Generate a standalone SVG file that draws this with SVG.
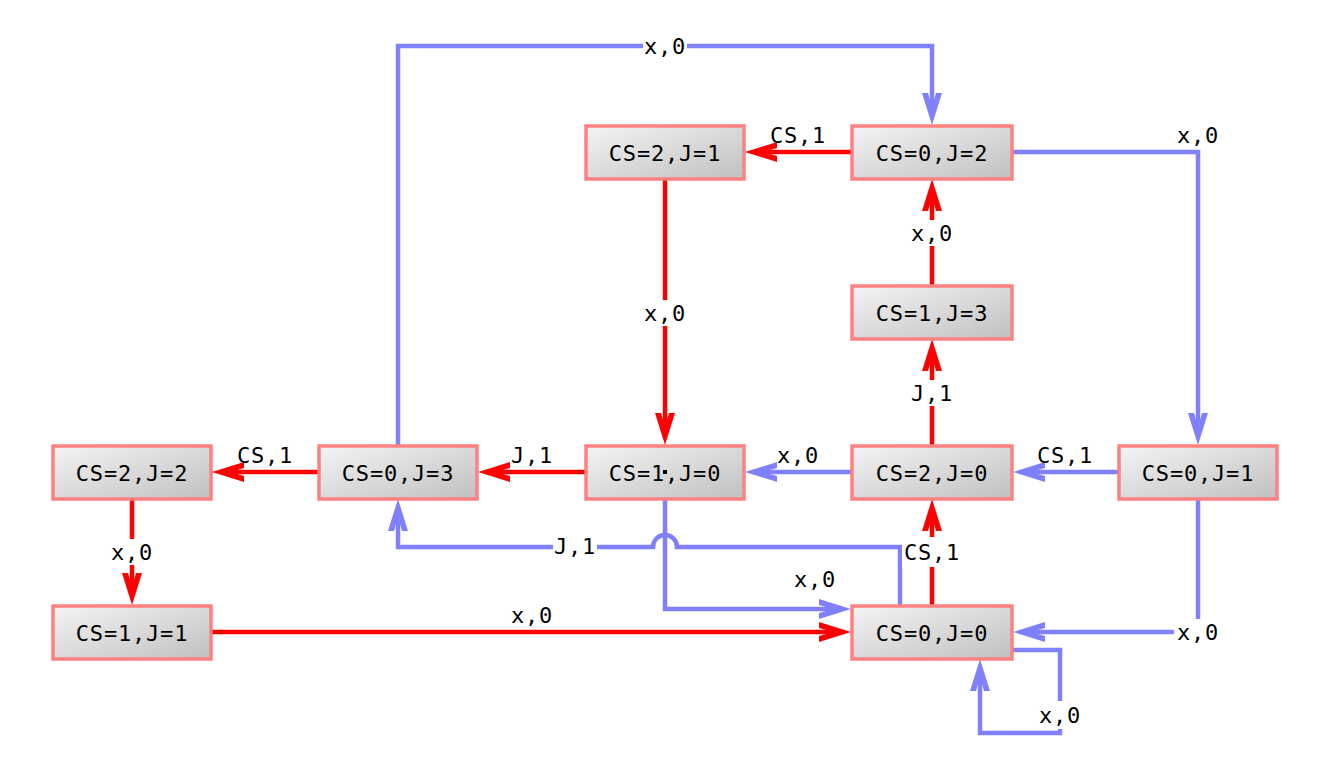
<svg xmlns="http://www.w3.org/2000/svg" width="1332" height="770" viewBox="0 0 1332 770">
<defs>
<linearGradient id="g" x1="0" y1="0" x2="1" y2="1">
<stop offset="0" stop-color="#f4f4f4"/>
<stop offset="1" stop-color="#c0c0c0"/>
</linearGradient>
<marker id="ar" markerUnits="userSpaceOnUse" orient="auto" refX="-20" refY="0" markerWidth="1" markerHeight="1" overflow="visible">
<path d="M0,0 L-32,-10 L-32,-4 L-25,-2 L-25,2 L-32,4 L-32,10 Z" fill="#ff0000"/>
</marker>
<marker id="ab" markerUnits="userSpaceOnUse" orient="auto" refX="-20" refY="0" markerWidth="1" markerHeight="1" overflow="visible">
<path d="M0,0 L-32,-10 L-32,-4 L-25,-2 L-25,2 L-32,4 L-32,10 Z" fill="#8080ff"/>
</marker>
<style>
.n rect.box{fill:url(#g);stroke:#ff8080;stroke-width:3.5}
.n rect.dot{fill:#000;stroke:none}
text{font-family:"DejaVu Sans Mono","Liberation Mono",monospace;font-size:22px;letter-spacing:0.8px;fill:#000;text-anchor:middle;dominant-baseline:central}
.r{fill:none;stroke:#ff0000;stroke-width:4.5;marker-end:url(#ar)}
.b{fill:none;stroke:#8080ff;stroke-width:4.5;marker-end:url(#ab)}
.bg{fill:#fff}
</style>
</defs>
<rect width="1332" height="770" fill="#fff"/>
<g id="connectors">
<path class="r" d="M851,152 H765"/>
<path class="r" d="M665,179 V425"/>
<path class="r" d="M932,286 V199"/>
<path class="r" d="M932,445 V359"/>
<path class="r" d="M585,472 H498"/>
<path class="r" d="M318,472 H232"/>
<path class="r" d="M132,499 V585"/>
<path class="r" d="M212,632 H831"/>
<path class="r" d="M932,605 V519"/>
<path class="b" d="M398,445 V46 H932 V105"/>
<path class="b" d="M1013,152 H1198 V425"/>
<path class="b" d="M851,472 H765"/>
<path class="b" d="M1118,472 H1033"/>
<path class="b" d="M1198,499 V632 H1033"/>
<path class="b" d="M665,499 V609 H831"/>
<path class="b" d="M900,605 V547 H677 A12,12 0 0 0 653,547 H398 V519"/>
<path class="b" d="M1013,650 H1060 V733 H980 V679"/>
<g id="labels">
<text x="798" y="135">CS,1</text>
<rect class="bg" x="643" y="300" width="44" height="26"/><text x="665" y="313">x,0</text>
<rect class="bg" x="910" y="220" width="44" height="26"/><text x="932" y="233">x,0</text>
<rect class="bg" x="910" y="380" width="44" height="26"/><text x="932" y="393">J,1</text>
<text x="532" y="455">J,1</text>
<text x="265" y="455">CS,1</text>
<rect class="bg" x="110" y="539" width="44" height="26"/><text x="132" y="552">x,0</text>
<text x="532" y="615">x,0</text>
<rect class="bg" x="902" y="537" width="60" height="30"/><text x="932" y="552">CS,1</text>
<rect class="bg" x="643" y="33" width="44" height="26"/><text x="665" y="46">x,0</text>
<text x="1198" y="135">x,0</text>
<text x="798" y="455">x,0</text>
<text x="1065" y="455">CS,1</text>
<rect class="bg" x="1174" y="619" width="48" height="26"/><text x="1198" y="632">x,0</text>
<text x="815" y="579">x,0</text>
<rect class="bg" x="553" y="533" width="44" height="26"/><text x="575" y="546">J,1</text>
<rect class="bg" x="1038" y="701" width="44" height="28"/><text x="1060" y="715">x,0</text>
</g>
</g>
<g id="n_cs0j2" class="n"><rect class="box" x="852" y="126" width="160" height="53"/><text x="932" y="153">CS=0,J=2</text></g>
<g id="n_cs2j1" class="n"><rect class="box" x="586" y="126" width="158" height="53"/><text x="665" y="153">CS=2,J=1</text></g>
<g id="n_cs1j3" class="n"><rect class="box" x="852" y="286" width="160" height="53"/><text x="932" y="313">CS=1,J=3</text></g>
<g id="n_cs2j2" class="n"><rect class="box" x="53" y="446" width="158" height="53"/><text x="132" y="473">CS=2,J=2</text></g>
<g id="n_cs0j3" class="n"><rect class="box" x="319" y="446" width="158" height="53"/><text x="398" y="473">CS=0,J=3</text></g>
<g id="n_cs1j0" class="n"><rect class="box" x="586" y="446" width="158" height="53"/><text x="665" y="473">CS=1,J=0</text><rect class="dot" x="663" y="470" width="4" height="4"/></g>
<g id="n_cs2j0" class="n"><rect class="box" x="852" y="446" width="160" height="53"/><text x="932" y="473">CS=2,J=0</text></g>
<g id="n_cs0j1" class="n"><rect class="box" x="1119" y="446" width="158" height="53"/><text x="1198" y="473">CS=0,J=1</text></g>
<g id="n_cs1j1" class="n"><rect class="box" x="53" y="606" width="158" height="53"/><text x="132" y="633">CS=1,J=1</text></g>
<g id="n_cs0j0" class="n"><rect class="box" x="852" y="606" width="160" height="53"/><text x="932" y="633">CS=0,J=0</text></g>
</svg>
